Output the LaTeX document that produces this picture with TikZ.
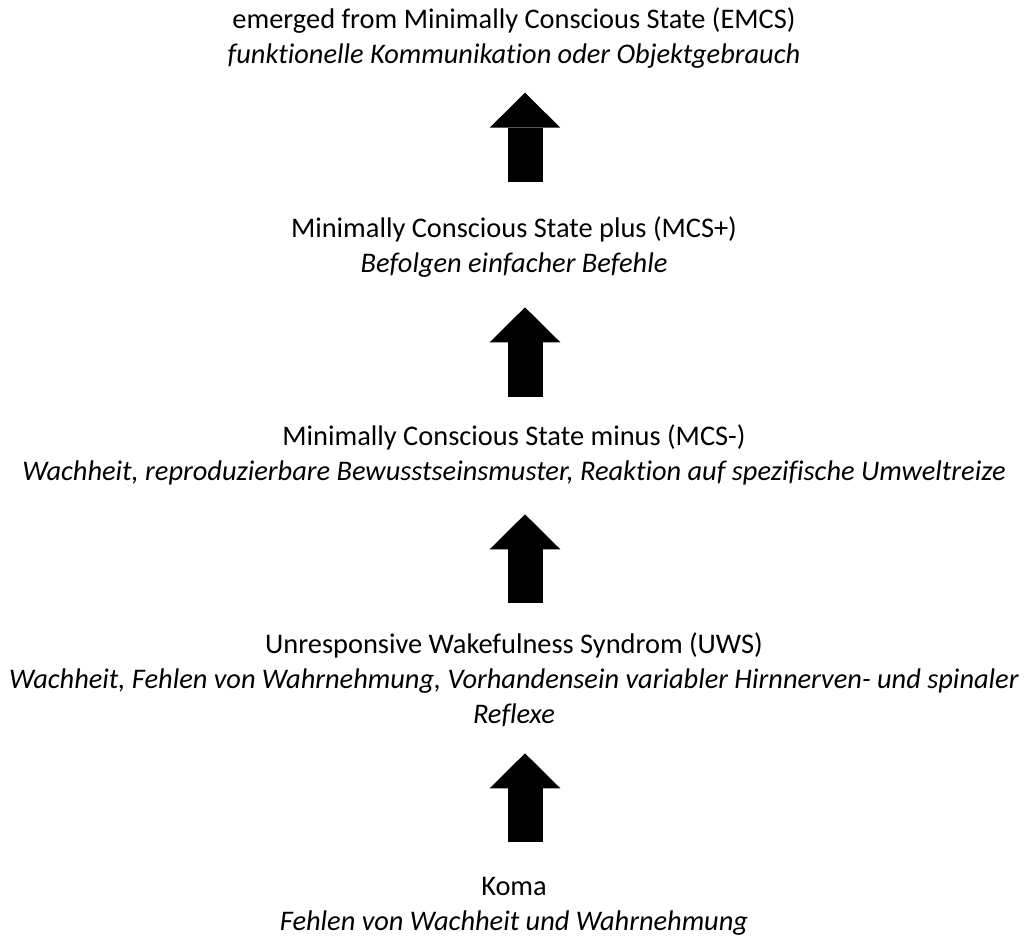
\documentclass[tikz,border=0pt]{standalone}
\usepackage{fontspec}
\setmainfont[Ligatures=NoCommon]{Carlito}
\usetikzlibrary{arrows.meta}

\newcommand{\stagefont}{\fontsize{21.3}{26.25}\selectfont}

\begin{document}
\begin{tikzpicture}[x=0.75pt, y=-0.75pt,
  stage/.style={align=center, anchor=base, inner sep=0pt, font=\stagefont},
  uparrow/.style={line width=26.25pt, -{Triangle[length=26.25pt, width=53pt, line width=0pt]}}]
  \def\Xt{514};
  \def\Xc{525};
  \useasboundingbox (0,0) rectangle (1027,936);

        % base anchor sits on the last line of each stage
        \node[stage] (emcs) at (\Xt, 63.3) {emerged from Minimally Conscious State (EMCS)\\ \textit{funktionelle Kommunikation oder Objektgebrauch}};
        \node[stage] (mcsplus) at (\Xt, 272) {Minimally Conscious State plus (MCS+)\\ \textit{Befolgen einfacher Befehle}};
        \node[stage] (mcsminus) at (\Xt, 480.5) {Minimally Conscious State minus (MCS-)\\ \textit{Wachheit, reproduzierbare Bewusstseinsmuster, Reaktion auf spezifische Umweltreize}};
        \node[stage] (uws) at (\Xt, 723.5) {Unresponsive Wakefulness Syndrom (UWS)\\ \textit{Wachheit, Fehlen von Wahrnehmung, Vorhandensein variabler Hirnnerven- und spinaler}\\ \textit{Reflexe}};
        \node[stage] (koma) at (\Xt, 930.7) {Koma\\ \textit{Fehlen von Wachheit und Wahrnehmung}};

        % block arrows between the stages
        \coordinate (kuFrom) at (\Xc, 841.7);
        \coordinate (kuTo) at (\Xc, 753.3);
        \coordinate (umFrom) at (\Xc, 603.3);
        \coordinate (umTo) at (\Xc, 514.3);
        \coordinate (mpFrom) at (\Xc, 396.7);
        \coordinate (mpTo) at (\Xc, 307.3);
        \coordinate (peFrom) at (\Xc, 181.7);
        \coordinate (peTo) at (\Xc, 92.7);

	\draw[uparrow] (kuFrom) -- (kuTo);
	\draw[uparrow] (umFrom) -- (umTo);
	\draw[uparrow] (mpFrom) -- (mpTo);
	\draw[uparrow] (peFrom) -- (peTo);

\end{tikzpicture}
\end{document}
